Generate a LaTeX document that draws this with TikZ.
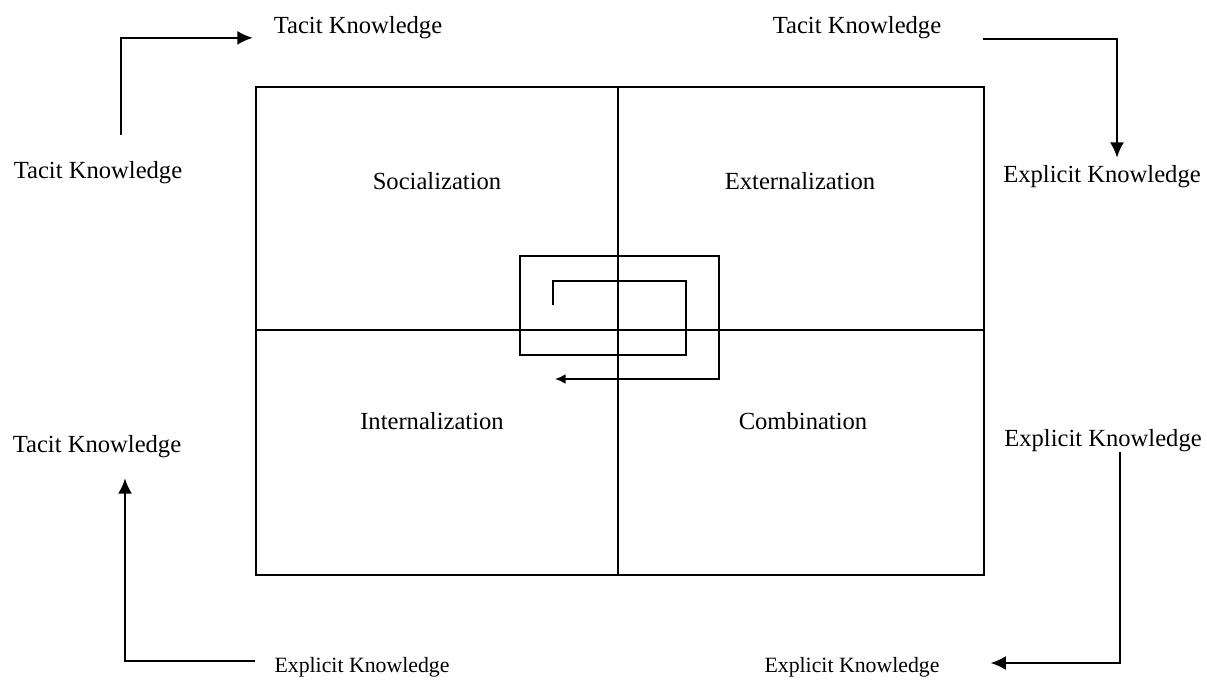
\documentclass[tikz,border=0pt]{standalone}
\usepackage{fontspec}
\setmainfont{Liberation Serif}
\usetikzlibrary{arrows.meta}

\begin{document}
\begin{tikzpicture}[x=0.015cm,y=-0.015cm,
  lbl/.style={inner sep=2pt,font=\fontsize{10.5}{12}\selectfont},
  lowlbl/.style={inner sep=2pt,font=\fontsize{9.3}{11}\selectfont},
  flow/.style={line width=0.8pt,-{Latex[length=2.3mm,width=2.1mm]}}]
\useasboundingbox (0,0) rectangle (1207,679);
% the four modes
\draw [line width=0.8pt] (256,87) rectangle (984,575);
\draw [line width=0.8pt] (618,87) -- (618,575);
\draw [line width=0.8pt] (256,330) -- (984,330);
\node[lbl] (soc) at (437,181) {Socialization};
\node[lbl] (ext) at (800,181) {Externalization};
\node[lbl] (int) at (432,421) {Internalization};
\node[lbl] (com) at (803,421) {Combination};
% spiral
\draw [line width=0.8pt,-{Latex[length=1.6mm,width=1.5mm]}] (553,305) -- (553,281) -- (686,281) -- (686,355) -- (520,355) -- (520,256) -- (719,256) -- (719,379) -- (555,379);
% knowledge labels
\node[lbl] (tkT1) at (358,28) {Tacit Knowledge};
\node[lbl] (tkT2) at (857,28) {Tacit Knowledge};
\node[lbl] (tkL1) at (98,173) {Tacit Knowledge};
\node[lbl] (ekR1) at (1102,177) {Explicit Knowledge};
\node[lbl] (tkL2) at (97,447) {Tacit Knowledge};
\node[lbl] (ekR2) at (1103,441) {Explicit Knowledge};
\node[lowlbl] (ekB1) at (362,667) {Explicit Knowledge};
\node[lowlbl] (ekB2) at (852,667) {Explicit Knowledge};
% conversion arrows
\draw [flow] ([shift={(23,-22)}]tkL1.north) |- ([shift={(-16,4)}]tkT1.base west);
\draw [flow] ([shift={(37,5)}]tkT2.base east) -| ([shift={(15,-3)}]ekR1.north);
\draw [flow] ([shift={(-14,-6)}]ekB1.west) -| ([shift={(28,15)}]tkL2.south);
\draw [flow] ([shift={(17,-5)}]ekR2.south) |- ([shift={(46,-4)}]ekB2.east);
\end{tikzpicture}
\end{document}
